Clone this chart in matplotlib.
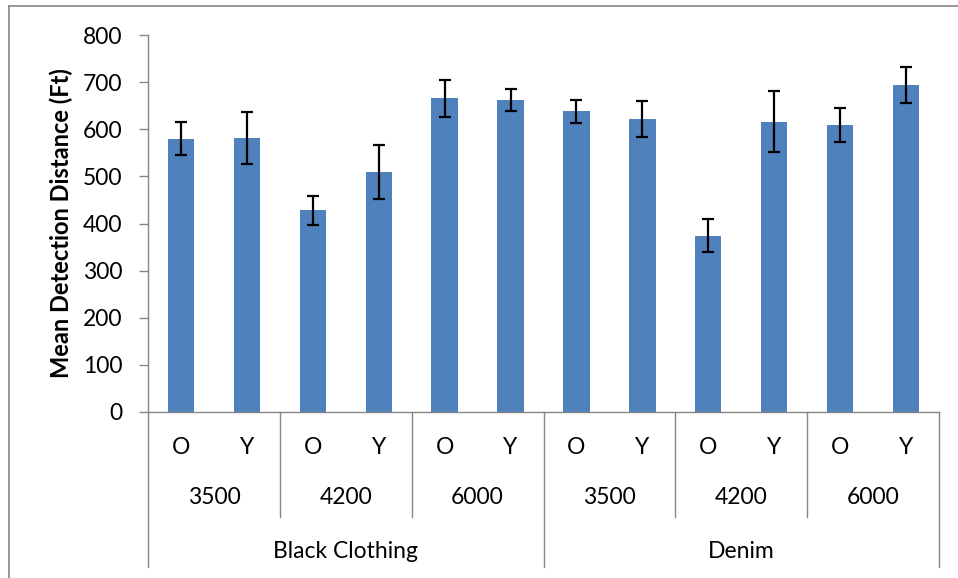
import matplotlib
matplotlib.use("Agg")
import matplotlib.pyplot as plt
from matplotlib.lines import Line2D

# values
groups = ["Black Clothing", "Denim"]
temps = ["3500", "4200", "6000"]
ages = ["O", "Y"]
means = [580, 581, 428, 509, 666, 662, 638, 622, 374, 616, 609, 694]
errs = [35, 55, 31, 57, 39, 23, 25, 39, 35, 65, 36, 38]

BAR = "#4F81BD"
GRID = "#868686"
FS = 16.5
plt.rcParams["font.family"] = ["Lato", "DejaVu Sans"]

fig = plt.figure(figsize=(9.58, 5.78), dpi=100)
ax = fig.add_axes([148 / 958, 1 - 412 / 578, (939 - 148) / 958, (412 - 35) / 578])

x = list(range(len(means)))
ax.bar(x, means, width=0.4, color=BAR, zorder=2)
ax.errorbar(x, means, yerr=errs, fmt="none", ecolor="black", elinewidth=1.6,
            capsize=4.3, capthick=1.6, zorder=3)

ax.set_xlim(-0.5, len(means) - 0.5)
ax.set_ylim(0, 800)
ax.set_yticks(range(0, 801, 100))
ax.tick_params(axis="y", length=6.5, width=1, color=GRID, labelsize=FS, pad=12)
ax.set_xticks([])
for s in ["top", "right"]:
    ax.spines[s].set_visible(False)
for s in ["left", "bottom"]:
    ax.spines[s].set_color(GRID)
    ax.spines[s].set_linewidth(1)

ax.set_ylabel("Mean Detection Distance (Ft)", fontsize=17, fontweight="bold")
ax.yaxis.set_label_coords(-0.095, 0.5)

# multi-level category axis
tr = ax.get_xaxis_transform()
n_age = len(ages)
n_temp = len(temps)
for i in x:
    ax.text(i, -0.093, ages[i % n_age], transform=tr, ha="center", va="center", fontsize=FS)
for k in range(len(groups) * n_temp):
    cx = k * n_age + (n_age - 1) / 2
    ax.text(cx, -0.2255, temps[k % n_temp], transform=tr, ha="center", va="center", fontsize=FS)
for g, name in enumerate(groups):
    cx = g * n_age * n_temp + (n_age * n_temp - 1) / 2
    ax.text(cx, -0.369, name, transform=tr, ha="center", va="center", fontsize=FS)

for k in range(len(groups) * n_temp + 1):
    bx = k * n_age - 0.5
    bottom = -0.411 if k % n_temp == 0 else -0.2785
    ax.add_line(Line2D([bx, bx], [0, bottom], transform=tr, color=GRID, lw=1, clip_on=False))

# chart area border
fig.add_artist(Line2D([8.5 / 958, 8.5 / 958], [0, 1 - 5.5 / 578], color=GRID, lw=1.2))
fig.add_artist(Line2D([8.5 / 958, 1], [1 - 5.5 / 578, 1 - 5.5 / 578], color=GRID, lw=1.2))

fig.savefig("out.png", dpi=100)
